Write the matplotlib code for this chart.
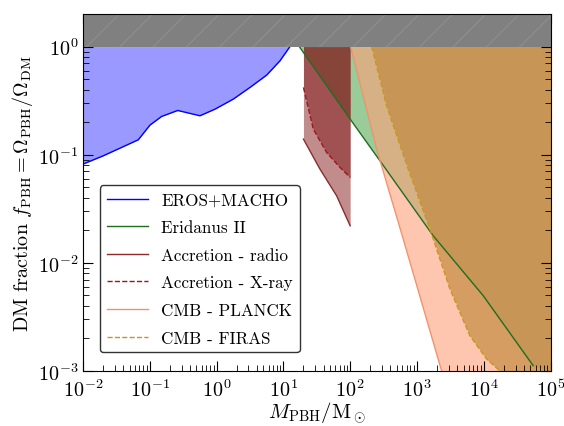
import numpy as np
import matplotlib
matplotlib.use("Agg")
import matplotlib.pyplot as plt

plt.rcParams['font.family'] = ['cmr10', 'DejaVu Serif']
plt.rcParams['mathtext.fontset'] = 'cm'
plt.rcParams['axes.formatter.use_mathtext'] = True
plt.rcParams['axes.unicode_minus'] = False

# ---- data (log10 values) ----
eros_logm = [-2.0, -1.696, -1.172, -0.997, -0.822, -0.582, -0.249, -0.024, 0.25, 0.5, 0.75, 0.949, 1.099]
eros_logf = [-1.087, -1.010, -0.862, -0.726, -0.646, -0.591, -0.640, -0.579, -0.486, -0.378, -0.264, -0.132, 0.0]

eri_logm = [1.238, 2.007, 2.446, 3.244, 3.993, 4.741, 5.0]
eri_logf = [0.0, -0.677, -1.056, -1.750, -2.304, -2.951, -3.0]

radio_logm = [1.301, 1.548, 1.798, 2.0]
radio_logf = [-0.856, -1.133, -1.380, -1.657]

xray_logm = [1.301, 1.448, 1.648, 1.847, 2.0]
xray_logf = [-0.378, -0.763, -0.979, -1.117, -1.21]

planck_logm = [2.007, 2.397, 2.795, 3.370, 5.0]
planck_logf = [0.0, -0.948, -1.780, -3.0, -3.0]

firas_logm = [2.322, 2.546, 2.870, 3.195, 3.494, 3.793, 4.043, 4.243, 5.0]
firas_logf = [0.0, -0.548, -1.133, -1.688, -2.242, -2.674, -2.889, -3.0, -3.0]


def pw(a):
    return 10.0 ** np.asarray(a)


fig = plt.figure(figsize=(5.64, 4.27), dpi=100)
ax = fig.add_axes([83 / 564, 1 - 372 / 427, 467.5 / 564, 357 / 427])

c_radio = '#821a1a'
c_firas = '#c0873b'

# fills
ax.fill_between(pw(eros_logm), pw(eros_logf), 1, color='blue', alpha=0.4, lw=0)
ax.fill_between(pw(eri_logm), pw(eri_logf), 1, color='green', alpha=0.4, lw=0)
ax.fill_between(pw(radio_logm), pw(radio_logf), 1, color=c_radio, alpha=0.5, lw=0)
ax.fill_between(pw(xray_logm), pw(xray_logf), 1, color=c_radio, alpha=0.5, lw=0)
ax.fill_between(pw(planck_logm), pw(planck_logf), 1, color='lightsalmon', alpha=0.6, lw=0)
ax.fill_between(pw(firas_logm), pw(firas_logf), 1, color=c_firas, alpha=0.65, lw=0)

# lines
ax.plot(pw(eros_logm), pw(eros_logf), color='blue', lw=1, label='EROS+MACHO')
ax.plot(pw(eri_logm[:6]), pw(eri_logf[:6]), color='#1e6e1e', lw=1, label='Eridanus II')
ax.plot(pw(radio_logm), pw(radio_logf), color='#8b2a2a', lw=1, label='Accretion - radio')
ax.plot(pw(xray_logm), pw(xray_logf), color='#a0141e', lw=1, ls='--', label='Accretion - X-ray')
ax.plot(pw(planck_logm[:4]), pw(planck_logf[:4]), color='#f4916b', lw=1, label='CMB - PLANCK')
ax.plot(pw(firas_logm[:8]), pw(firas_logf[:8]), color='#c8961e', lw=1, ls='--', label='CMB - FIRAS')

# f > 1 excluded
ax.axhspan(1, 2, facecolor='#808080', edgecolor='#8c8c8c', hatch='/', lw=0, zorder=5)

ax.set_xscale('log')
ax.set_yscale('log')
ax.set_xlim(1e-2, 1e5)
ax.set_ylim(1e-3, 2)
ax.set_xticks([1e-2, 1e-1, 1e0, 1e1, 1e2, 1e3, 1e4, 1e5])
ax.set_yticks([1e-3, 1e-2, 1e-1, 1e0])
ax.tick_params(which='both', direction='in', top=True, right=True, labelsize=14.5)
ax.tick_params(which='major', length=7, width=0.8)
ax.tick_params(which='minor', length=4.5, width=0.6)
ax.tick_params(axis='x', pad=5)
for s in ax.spines.values():
    s.set_zorder(10)

ax.set_xlabel(r'$M_{\rm PBH}/{\rm M}_\odot$', fontsize=15, labelpad=0)
ax.set_ylabel(r'DM fraction $f_{\rm PBH} = \Omega_{\rm PBH}/\Omega_{\rm DM}$', fontsize=14.5, labelpad=2)

ax.legend(loc='lower left', bbox_to_anchor=(0.036, 0.052), borderaxespad=0,
          fontsize=12.3, handlelength=2.4, labelspacing=0.72, framealpha=1,
          edgecolor='#333333')

fig.savefig('out.png', dpi=100)
